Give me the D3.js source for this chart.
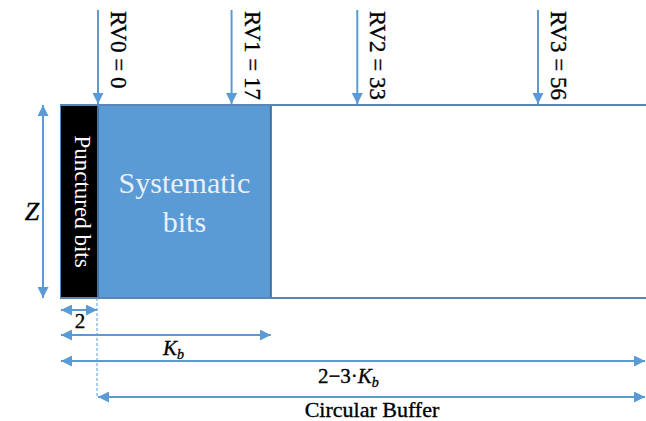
<!DOCTYPE html>
<meta charset="utf-8">
<style>
  body { margin: 0; background: #fff; }
  svg { display: block; }
  .dark { fill: #000; stroke: #000; stroke-width: 0.35px; }
</style>
<svg width="646" height="421" font-family="'Liberation Serif', 'Times New Roman', Times, 'DejaVu Serif', serif"></svg>
<script src="https://cdnjs.cloudflare.com/ajax/libs/d3/7.8.5/d3.min.js"></script>
<script>

  // redundancy version start points (column index in the circular buffer)
  var rvLabels = ["RV0 = 0", "RV1 = 17", "RV2 = 33", "RV3 = 56"];
  var rvValues = [0, 17, 33, 56];

  // blocks of the buffer, width in columns
  var blockNames = ["Punctured bits", "Systematic bits"];
  var blockCols = [2, 22];

  // dimension arrows under the buffer
  var spanLabels = ["2", "Kb", "2-3Kb", "Circular Buffer"];

  var svg = d3.select("svg"),
      width = +svg.attr("width"),
      height = +svg.attr("height");

  var blue = "#5b9bd5";
  var top_y = 105, bot_y = 298, left = 61;

  // column scale, column 0 = first non punctured column
  var x = d3.scaleLinear().domain([0, 56]).range([98, 538]);

  var defs = svg.append("defs");
  defs.append("marker")
    .attr("id", "head")
    .attr("viewBox", "0 0 10 10")
    .attr("refX", 10).attr("refY", 5)
    .attr("markerWidth", 11).attr("markerHeight", 11)
    .attr("markerUnits", "userSpaceOnUse")
    .attr("orient", "auto-start-reverse")
    .append("path")
    .attr("d", "M0,0 L10,5 L0,10 Z")
    .attr("fill", blue);

  function arrow(x1, y1, x2, y2, both) {
    var l = svg.append("line")
      .attr("x1", x1).attr("y1", y1)
      .attr("x2", x2).attr("y2", y2)
      .attr("stroke", blue)
      .attr("stroke-width", 2)
      .attr("marker-end", "url(#head)");
    if (both) l.attr("marker-start", "url(#head)");
    return l;
  }

  // buffer body
  svg.append("rect")
    .attr("x", left).attr("y", top_y)
    .attr("width", width - left + 5).attr("height", bot_y - top_y)
    .attr("fill", "#fff")
    .attr("stroke", "#5a86b5")
    .attr("stroke-width", 2);

  // punctured block
  svg.append("rect")
    .attr("x", left).attr("y", top_y)
    .attr("width", x(0) - left).attr("height", bot_y - top_y)
    .attr("fill", "#000");

  // systematic block
  svg.append("rect")
    .attr("x", x(0)).attr("y", top_y)
    .attr("width", x(blockCols[1]) - x(0)).attr("height", bot_y - top_y)
    .attr("fill", blue)
    .attr("stroke", "#41719c")
    .attr("stroke-width", 2);

  // redraw top/bottom border over the fills
  [top_y, bot_y].forEach(function(yy) {
    svg.append("line")
      .attr("x1", left).attr("x2", width)
      .attr("y1", yy).attr("y2", yy)
      .attr("stroke", "#5a86b5").attr("stroke-width", 2);
  });

  svg.append("text")
    .attr("transform", "translate(75," + (top_y + bot_y) / 2 + ") rotate(90)")
    .attr("text-anchor", "middle")
    .attr("font-size", 23)
    .attr("fill", "#fff")
    .text(blockNames[0]);

  var sys = blockNames[1].split(" ");
  svg.append("text")
    .attr("text-anchor", "middle")
    .attr("font-size", 30)
    .attr("fill", "#e9f0f8")
    .selectAll("tspan")
    .data(sys)
    .enter().append("tspan")
    .attr("x", (x(0) + x(blockCols[1])) / 2)
    .attr("y", function(d, i) { return 193 + i * 39; })
    .text(function(d) { return d; });

  // RV arrows + labels
  rvValues.forEach(function(v, i) {
    arrow(x(v), 10, x(v), top_y - 1, false);
    svg.append("text")
      .attr("class", "dark")
      .attr("transform", "translate(" + (x(v) + 13) + ",11) rotate(90)")
      .attr("font-size", 23)
      .text(rvLabels[i]);
  });

  // Z arrow
  arrow(43, top_y, 43, bot_y, true);
  svg.append("text")
    .attr("class", "dark")
    .attr("x", 32).attr("y", 220)
    .attr("text-anchor", "middle")
    .attr("font-size", 26)
    .attr("font-style", "italic")
    .text("Z");

  // dashed guide at column 0
  svg.append("line")
    .attr("x1", x(0) - 1).attr("x2", x(0) - 1)
    .attr("y1", bot_y).attr("y2", 397)
    .attr("stroke", blue)
    .attr("stroke-width", 1)
    .attr("stroke-dasharray", "3,2");

  // span "2"
  arrow(left, 310, x(0) - 1, 310, true);
  svg.append("text")
    .attr("class", "dark")
    .attr("x", 80).attr("y", 328)
    .attr("text-anchor", "middle")
    .attr("font-size", 21)
    .text(spanLabels[0]);

  // span Kb
  arrow(left, 335, x(blockCols[1]), 335, true);
  var kb = svg.append("text")
    .attr("class", "dark")
    .attr("x", 163).attr("y", 355)
    .attr("font-size", 21)
    .attr("font-style", "italic");
  kb.append("tspan").text("K");
  kb.append("tspan").attr("dy", 4).attr("font-size", 14).text("b");

  // span 2-3Kb
  arrow(left, 361, width - 1, 361, true);
  var k3 = svg.append("text")
    .attr("class", "dark")
    .attr("x", 318).attr("y", 383)
    .attr("font-size", 21);
  k3.append("tspan").text("2\u22123\u00b7");
  k3.append("tspan").attr("font-style", "italic").text("K");
  k3.append("tspan").attr("dy", 4).attr("font-size", 14).attr("font-style", "italic").text("b");

  // circular buffer span
  arrow(x(0), 397, width - 1, 397, true);
  svg.append("text")
    .attr("class", "dark")
    .attr("x", 372).attr("y", 417)
    .attr("text-anchor", "middle")
    .attr("font-size", 22)
    .text(spanLabels[3]);

</script>
